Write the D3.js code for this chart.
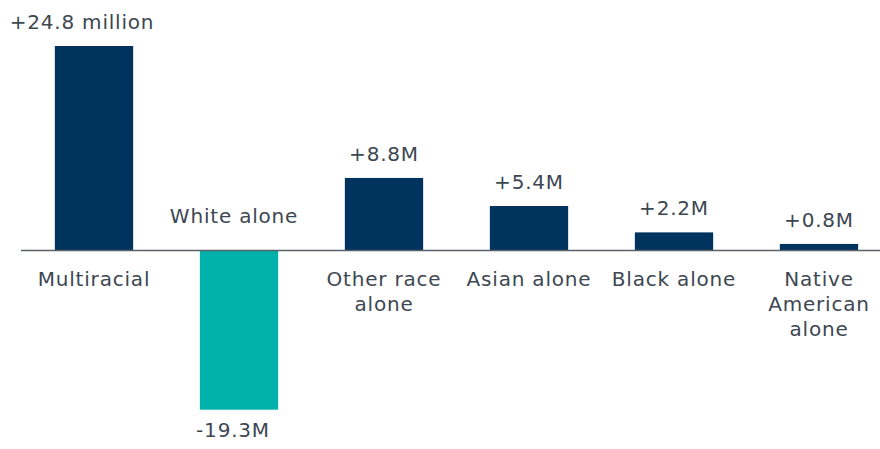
<!DOCTYPE html>
<html>
<head>
<meta charset="utf-8">
<script src="https://cdn.jsdelivr.net/npm/d3@7"></script>
<style>
  html, body { margin: 0; padding: 0; background: #fff; }
  svg { display: block; }
  text { font-family: "DejaVu Sans", Verdana, sans-serif; fill: #3d4752; letter-spacing: 0.8px; }
</style>
</head>
<body>
<svg id="chart" width="880" height="449"></svg>
<script>
const categories = ["Multiracial", "White alone", "Other race alone", "Asian alone", "Black alone", "Native American alone"];
const categoryLines = [["Multiracial"], ["White alone"], ["Other race", "alone"], ["Asian alone"], ["Black alone"], ["Native", "American", "alone"]];
const values = [24.8, -19.3, 8.8, 5.4, 2.2, 0.8];
const valueLabels = ["+24.8 million", "-19.3M", "+8.8M", "+5.4M", "+2.2M", "+0.8M"];

const svg = d3.select("#chart");
const fontSize = 20;

const x = d3.scaleBand()
  .domain(categories)
  .range([21.5, 891.5])
  .paddingInner(0.46)
  .paddingOuter(0.23);

const y = d3.scaleLinear()
  .domain([-19.3, 24.8])
  .range([409.7, 46]);

const y0 = y(0);
const cx = d => x(d) + x.bandwidth() / 2;
// small horizontal nudges matching the source layout
const valueNudge = i => i === 0 ? -12 : (values[i] < 0 ? -6 : 0);
const catNudge = i => values[i] < 0 ? -5 : 0;

// bars
svg.selectAll("rect.bar")
  .data(categories)
  .join("rect")
  .attr("class", "bar")
  .attr("x", d => x(d))
  .attr("width", x.bandwidth())
  .attr("y", (d, i) => Math.min(y(values[i]), y0))
  .attr("height", (d, i) => Math.abs(y(values[i]) - y0))
  .attr("fill", (d, i) => values[i] < 0 ? "#00b2aa" : "#00345e");

// baseline
svg.append("line")
  .attr("x1", 21).attr("x2", 880)
  .attr("y1", y0).attr("y2", y0)
  .attr("stroke", "#5a6068")
  .attr("stroke-width", 1.5);

// value labels
svg.selectAll("text.val")
  .data(categories)
  .join("text")
  .attr("class", "val")
  .attr("x", (d, i) => cx(d) + valueNudge(i))
  .attr("y", (d, i) => values[i] >= 0 ? y(values[i]) - 17 : y(values[i]) + 27)
  .attr("text-anchor", "middle")
  .attr("font-size", fontSize)
  .text((d, i) => valueLabels[i]);

// category labels
const cat = svg.selectAll("text.cat")
  .data(categories)
  .join("text")
  .attr("class", "cat")
  .attr("text-anchor", "middle")
  .attr("font-size", fontSize)
  .attr("x", (d, i) => cx(d) + catNudge(i))
  .attr("y", (d, i) => values[i] >= 0 ? y0 + 35 : y0 - 28);

cat.each(function(d, i) {
  const t = d3.select(this);
  categoryLines[i].forEach((line, j) => {
    t.append("tspan")
      .attr("x", cx(d) + catNudge(i))
      .attr("dy", j === 0 ? 0 : 25)
      .text(line);
  });
});
</script>
</body>
</html>
